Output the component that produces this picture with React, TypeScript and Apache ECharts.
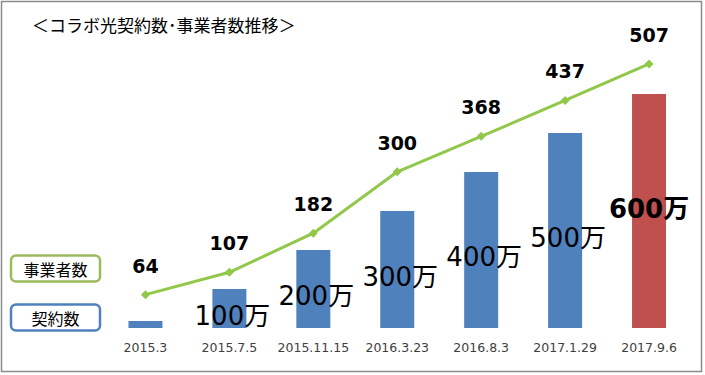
import React, { useEffect, useRef } from "react";
import * as echarts from "echarts";

const categories = ["2015.3", "2015.7.5", "2015.11.15", "2016.3.23", "2016.8.3", "2017.1.29", "2017.9.6"];
const contracts = [18, 100, 200, 300, 400, 500, 600];
const contractLabels = ["", "100万", "200万", "300万", "400万", "500万", "600万"];
const operators = [64, 107, 182, 300, 368, 437, 507];
const titleText = "＜コラボ光契約数･事業者数推移＞";
const legendNames = ["事業者数", "契約数"];

const CJK = '"Noto Sans CJK JP", sans-serif';
const NUM = '"DejaVu Sans", "Noto Sans CJK JP", sans-serif';

export default function App() {
  const ref = useRef<HTMLDivElement>(null);
  useEffect(() => {
    const chart = echarts.init(ref.current!, null, { renderer: "svg" });
    const last = contracts.length - 1;
    chart.setOption({
      animation: false,
      backgroundColor: "#fff",
      title: {
        text: titleText,
        left: 32,
        top: 16,
        padding: 0,
        textStyle: { fontSize: 17, fontWeight: "normal", color: "#000", fontFamily: CJK },
      },
      grid: { left: 103.5, right: 14, top: 40, bottom: 47 },
      xAxis: {
        type: "category",
        data: categories,
        axisLine: { show: false },
        axisTick: { show: false },
        axisLabel: { interval: 0, color: "#404040", fontSize: 12.5, fontFamily: NUM, margin: 13 },
      },
      yAxis: [
        { type: "value", min: 0, max: 738.5, show: false, splitLine: { show: false } },
        { type: "value", min: 0, max: 553, show: false, splitLine: { show: false } },
      ],
      series: [
        {
          type: "bar",
          yAxisIndex: 0,
          barWidth: 34,
          data: contracts.map((v, i) => ({
            value: v,
            itemStyle: { color: i === last ? "#C0504D" : "#4F81BD" },
            label: {
              show: contractLabels[i] !== "",
              formatter: contractLabels[i],
              position: "inside",
              offset: i === last ? [0, -2] : [3, 7],
              fontSize: 26,
              fontWeight: i === last ? "bold" : "normal",
              color: "#000",
              fontFamily: NUM,
            },
          })),
        },
        {
          type: "line",
          yAxisIndex: 1,
          data: operators,
          symbol: "diamond",
          symbolSize: 9,
          lineStyle: { color: "#92C84A", width: 3 },
          itemStyle: { color: "#92C84A" },
          label: {
            show: true,
            position: "top",
            distance: 15,
            fontSize: 19,
            fontWeight: "bold",
            color: "#000",
            fontFamily: NUM,
          },
        },
      ],
      graphic: [
        {
          type: "rect",
          shape: { x: 1.5, y: 1.5, width: 700, height: 370 },
          style: { fill: "none", stroke: "#8c8c8c", lineWidth: 1.5 },
          silent: true,
        },
        {
          type: "rect",
          shape: { x: 11, y: 255.5, width: 89, height: 26, r: 5 },
          style: { fill: "#fff", stroke: "#9BBB59", lineWidth: 2.5 },
        },
        {
          type: "text",
          style: {
            text: legendNames[0], x: 55.5, y: 268.5, align: "center", verticalAlign: "middle",
            fontSize: 16, fill: "#000", fontFamily: CJK,
          },
        },
        {
          type: "rect",
          shape: { x: 11, y: 304.5, width: 89, height: 26, r: 5 },
          style: { fill: "#fff", stroke: "#4F81BD", lineWidth: 2.5 },
        },
        {
          type: "text",
          style: {
            text: legendNames[1], x: 55.5, y: 317.5, align: "center", verticalAlign: "middle",
            fontSize: 16, fill: "#000", fontFamily: CJK,
          },
        },
      ],
    });
    return () => chart.dispose();
  }, []);
  return <div ref={ref} style={{ position: "fixed", left: 0, top: 0, width: 705, height: 375 }} />;
}
